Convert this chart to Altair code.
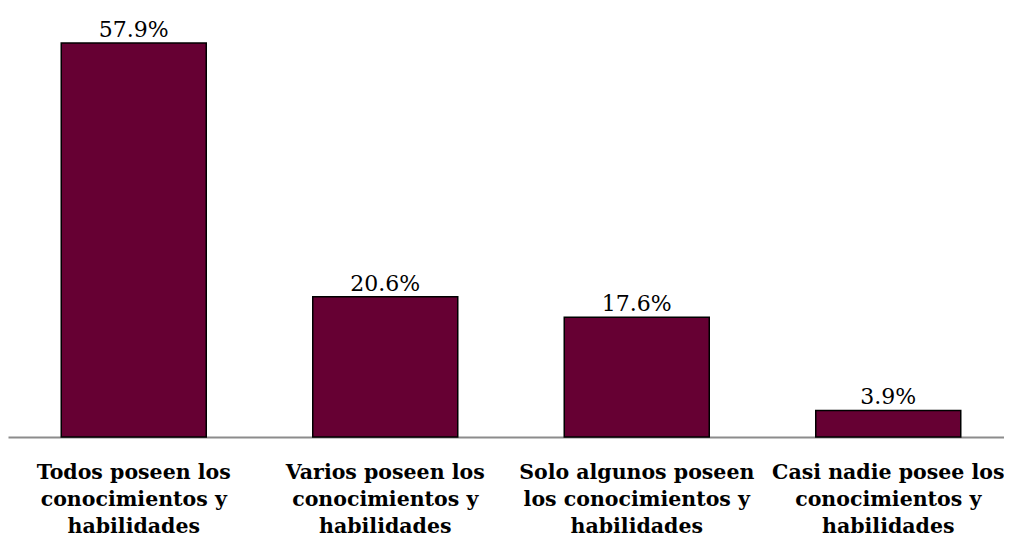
import altair as alt
import pandas as pd

categories = [
    "Todos poseen los|conocimientos y|habilidades",
    "Varios poseen los|conocimientos y|habilidades",
    "Solo algunos poseen|los conocimientos y|habilidades",
    "Casi nadie posee los|conocimientos y|habilidades",
]
values = [57.9, 20.6, 17.6, 3.9]
labels = ["57.9%", "20.6%", "17.6%", "3.9%"]

df = pd.DataFrame({"cat": categories, "val": values, "lab": labels})

x = alt.X(
    "cat:N",
    sort=None,
    scale=alt.Scale(paddingInner=0, paddingOuter=0, range=[0, 1006]),
    axis=alt.Axis(
        title=None,
        labelAngle=0,
        ticks=False,
        domainColor="#8c8c8c",
        domainWidth=2,
        labelExpr="split(datum.label, '|')",
        labelFont="DejaVu Serif",
        labelFontSize=20.5,
        labelFontWeight="bold",
        labelColor="#000000",
        labelPadding=25,
        labelLineHeight=27,
        labelLimit=400,
        labelBaseline="top",
    ),
)
y = alt.Y("val:Q", scale=alt.Scale(domain=[0, 63.04], nice=False), axis=None)

bars = alt.Chart(df).mark_bar(
    width=145, color="#660033", stroke="#000000", strokeWidth=1.5
).encode(x=x, y=y)

text = alt.Chart(df).mark_text(
    baseline="bottom", dy=-1, font="DejaVu Serif", fontSize=22, color="#000000"
).encode(x=x, y=y, text="lab:N")

chart = (bars + text).properties(
    width=996,
    height=429,
    autosize=alt.AutoSizeParams(type="none"),
    padding={"left": 0, "top": 0, "right": 0, "bottom": 99},
    background="white",
).configure_view(stroke=None)

chart.save("out.html", embed_options={"renderer": "svg", "actions": False})
